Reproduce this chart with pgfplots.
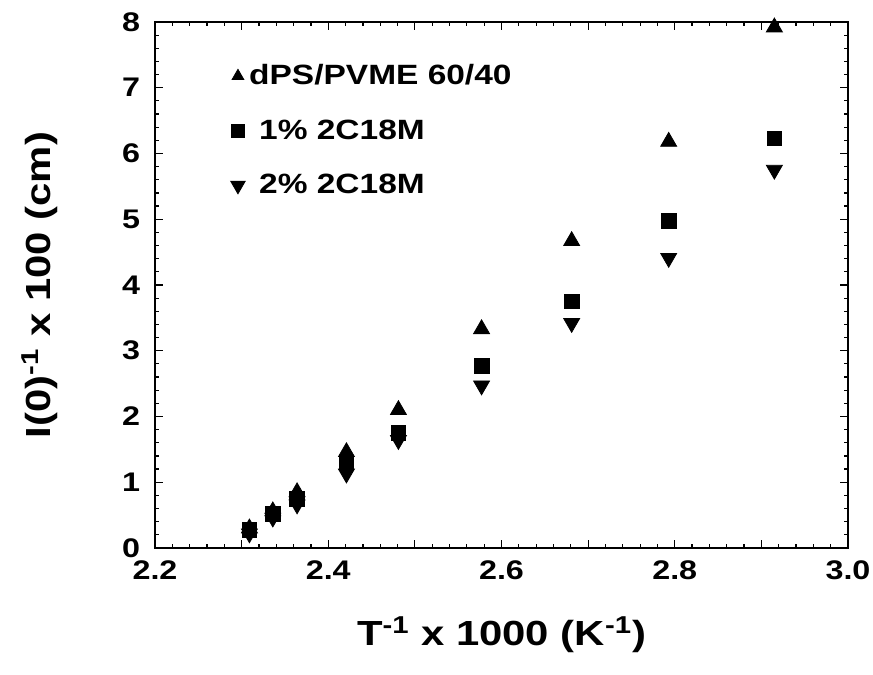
\documentclass[border=0pt]{standalone}
\usepackage{fontspec}
\setmainfont[FakeStretch=1.2]{Liberation Sans}
\usepackage{pgfplots}
\pgfplotsset{compat=1.18}
\begin{document}
\begin{tikzpicture}
\begin{axis}[
  scale only axis, width=346.5bp, height=263bp,
  xmin=2.2, xmax=3.0, ymin=0, ymax=8,
  xtick={2.2,2.3,2.4,2.5,2.6,2.7,2.8,2.9,3.0},
  xticklabels={2.2,,2.4,,2.6,,2.8,,3.0},
  minor x tick num=4,
  ytick={0,1,2,3,4,5,6,7,8},
  minor y tick num=4,
  tick align=inside,
  major tick length=4bp, minor tick length=2bp,
  tick style={black, line width=0.6pt},
  axis line style={line width=0.9pt},
  /pgf/number format/assume math mode=true,
  ticklabel style={font=\fontsize{13.5}{15}\selectfont\bfseries},
  xticklabel style={yshift=-3bp},
  yticklabel style={xshift=-4bp},
  xlabel={T\textsuperscript{-1} x 1000 (K\textsuperscript{-1})},
  ylabel={I(0)\textsuperscript{-1} x 100 (cm)},
  label style={font=\fontsize{17.5}{20}\selectfont\bfseries},
  xlabel style={at={(axis description cs:0.5,-0.165)}, anchor=center},
  ylabel style={at={(axis description cs:-0.166,0.50)}, anchor=center},
  legend cell align=left,
  legend style={draw=none, fill=none, at={(axis description cs:0.1,0.935)},
    anchor=north west, row sep=12bp,
    font=\fontsize{14}{16}\selectfont\bfseries,
    /tikz/every even column/.append style={column sep=2bp}},
]
\addplot[only marks, black, mark=triangle*, mark size=4.6bp,
  legend image code/.code={\draw[black, mark=triangle*, mark size=3.4bp] plot coordinates {(0cm,0cm)};}]
  coordinates {
  (2.309,0.30) (2.336,0.56) (2.364,0.85) (2.421,1.46) (2.481,2.10)
  (2.577,3.33) (2.681,4.67) (2.793,6.18) (2.915,7.92)
};
\addlegendentry{dPS/PVME 60/40}
\addplot[only marks, black, mark=square*, mark size=3.7bp,
  legend image code/.code={\draw[black, mark=square*, mark size=3.3bp] plot coordinates {(0cm,0cm)};}]
  coordinates {
  (2.309,0.28) (2.336,0.52) (2.364,0.75) (2.421,1.30) (2.481,1.75)
  (2.577,2.77) (2.681,3.75) (2.793,4.97) (2.915,6.23)
};
\addlegendentry{\hspace{5bp}1\% 2C18M}
\addplot[only marks, black, mark=triangle*, mark size=4.6bp, mark options={rotate=180},
  legend image code/.code={\draw[black, mark=triangle*, mark size=4.2bp, mark options={rotate=180}] plot coordinates {(0cm,0cm)};}]
  coordinates {
  (2.309,0.22) (2.336,0.46) (2.364,0.66) (2.421,1.13) (2.481,1.64)
  (2.577,2.47) (2.681,3.42) (2.793,4.41) (2.915,5.75)
};
\addlegendentry{\hspace{5bp}2\% 2C18M}
\end{axis}
\pgfresetboundingbox
\path ([shift={(-77.5bp,-63.5bp)}]current axis.south west) rectangle ([shift={(12.5bp,11bp)}]current axis.north east);
\end{tikzpicture}
\end{document}
